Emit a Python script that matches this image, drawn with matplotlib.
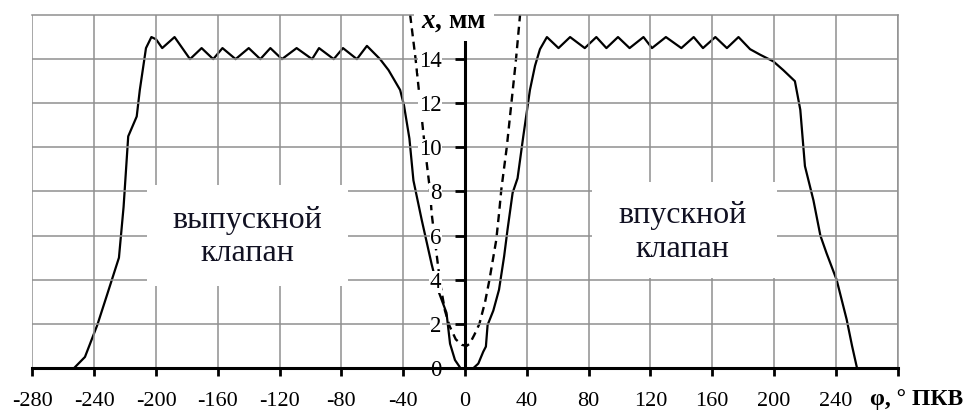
import matplotlib
matplotlib.use('Agg')
import matplotlib.pyplot as plt
import matplotlib.patches as mpatches

# выпускной клапан (exhaust valve lift), град ПКВ / мм
exh_phi = [-253, -246, -238, -232, -224, -221, -218, -212.5, -210.5, -206.5,
           -203, -200, -196, -188, -178, -170.5, -163, -157, -148.5, -140,
           -132.5, -126, -118.5, -109, -99, -94.5, -85, -79, -70, -63.5,
           -55, -49.5, -42, -39.5, -36, -33.4, -28, -21.6, -17.3, -12,
           -9.7, -6.5, -3]
exh_x = [0, 0.5, 1.95, 3.25, 5.0, 7.3, 10.5, 11.4, 12.6, 14.5,
         15.0, 14.9, 14.5, 15.0, 14.0, 14.5, 14.0, 14.5, 14.0, 14.5,
         14.0, 14.5, 14.0, 14.5, 14.0, 14.5, 14.0, 14.5, 14.0, 14.6,
         14.0, 13.5, 12.6, 11.9, 10.4, 8.5, 6.7, 4.7, 3.5, 2.5,
         1.1, 0.36, 0]

# впускной клапан (intake valve lift)
int_phi = [5.5, 8.6, 11.8, 13.5, 14.6, 18.3, 22, 25.3, 27.5, 30.8,
           34, 37.7, 42, 45.3, 48.5, 53, 60.5, 68, 77.5, 85,
           91.5, 99, 106.5, 115.5, 121, 130, 140, 148, 154, 162,
           169.5, 177, 184.5, 191, 199.5, 206, 213.5, 217, 220, 225.5,
           230, 234, 240.5, 247, 250.5, 253.5]
int_x = [0, 0.2, 0.74, 0.97, 1.95, 2.6, 3.55, 5.06, 6.27, 7.94,
         8.6, 10.5, 12.6, 13.7, 14.45, 15.0, 14.5, 15.0, 14.5, 15.0,
         14.5, 15.0, 14.5, 15.0, 14.5, 15.0, 14.5, 15.0, 14.5, 15.0,
         14.5, 15.0, 14.45, 14.2, 13.9, 13.5, 13.0, 11.7, 9.15, 7.6,
         6.0, 5.2, 4.0, 2.2, 1.0, 0.06]

# поршень (dashed)
pist_phi = [-35.5, -32, -29, -26, -22.6, -21.6, -19, -16, -13, -10,
            -6, -2, 1, 3, 6, 9.3, 13, 15.8, 18, 20.2,
            22, 23.5, 27, 30, 33, 35.6]
pist_x = [16.0, 14, 12, 10, 8.0, 7.0, 5.5, 3.8, 2.6, 1.9,
          1.3, 1.05, 1.0, 1.1, 1.5, 2.0, 3.0, 4.0, 4.9, 5.8,
          7.0, 8.1, 10, 12, 14, 16.0]

phi_ticks = list(range(-280, 281, 40))
phi_labels = [str(v) for v in phi_ticks[:-1]] + ['']
x_ticks = list(range(0, 15, 2))

plt.rcParams['font.family'] = ['Liberation Serif', 'DejaVu Serif']
plt.rcParams['mathtext.fontset'] = 'custom'
plt.rcParams['mathtext.bfit'] = 'Liberation Serif:italic:bold'

fig = plt.figure(figsize=(9.65, 4.12), dpi=100)
ax = fig.add_axes([0.0336, 0.1068, 0.8966, 0.8568])
ax.set_xlim(-280, 280)
ax.set_ylim(0, 16)

ax.plot(exh_phi, exh_x, color='k', lw=1.6, zorder=1.2)
ax.plot(int_phi, int_x, color='k', lw=1.6, zorder=1.2)
ax.plot(pist_phi, pist_x, color='k', lw=1.7, ls=(0, (3.4, 2.3)), zorder=1.2)

ax.set_xticks(phi_ticks)
ax.set_xticklabels(phi_labels)
ax.set_yticks(x_ticks)
ax.grid(True, color='#909090', lw=1.1)
# no grey line on the y axis itself
ax.xaxis.get_gridlines()[phi_ticks.index(0)].set_visible(False)

ax.spines['left'].set_position(('data', 0))
ax.spines['left'].set_bounds(0, 15)
ax.spines['left'].set_linewidth(2.2)
ax.spines['bottom'].set_linewidth(2.2)
for s in ['top', 'right']:
    ax.spines[s].set_color('#909090')
    ax.spines[s].set_linewidth(1.1)
    ax.spines[s].set_zorder(1.4)

ax.tick_params(axis='x', direction='out', length=6, width=2, pad=11, labelsize=16)
ax.tick_params(axis='y', direction='out', length=7, width=2, pad=10, labelsize=16.5)
for t in ax.get_yticklabels():
    t.set_bbox(dict(facecolor='white', edgecolor='none', pad=0.3))

# white boxes behind the valve captions
ax.add_patch(mpatches.Rectangle((-206, 3.7), 130, 4.6, facecolor='white',
                                edgecolor='none', zorder=1.6))
ax.add_patch(mpatches.Rectangle((82, 4.1), 120, 4.35, facecolor='white',
                                edgecolor='none', zorder=1.6))
ax.text(-141, 5.95, 'выпускной\nклапан', fontsize=23, ha='center', va='center',
        linespacing=1.2, color='#111122', zorder=3)
ax.text(141, 6.15, 'впускной\nклапан', fontsize=23, ha='center', va='center',
        linespacing=1.2, color='#111122', zorder=3)

# axis captions
ax.text(-7, 15.72, r'$\mathbfit{x}$, мм', fontsize=19.5, fontweight='bold',
        ha='center', va='center', zorder=3,
        bbox=dict(facecolor='white', edgecolor='none', pad=5))
fig.text(0.998, 1 - 399 / 412, 'φ, ° ПКВ', fontsize=17, fontweight='bold',
         ha='right', va='center')

fig.savefig('out.png', dpi=100)
